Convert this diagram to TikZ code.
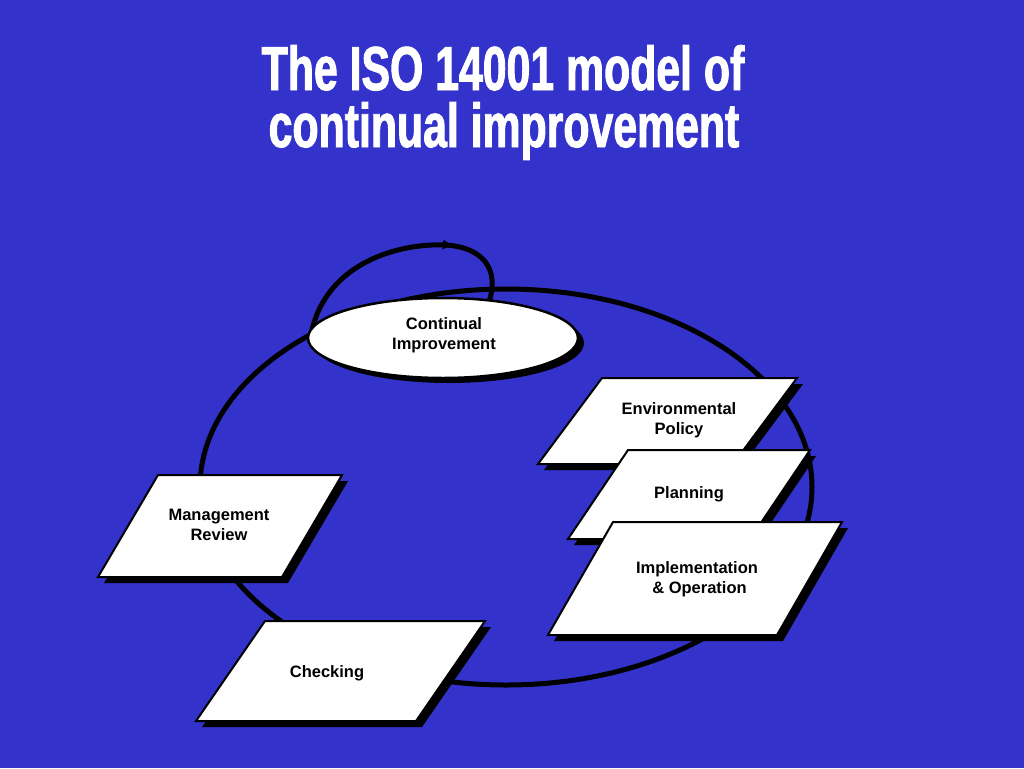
\documentclass[tikz,border=0pt]{standalone}
\usepackage{fontspec}
\setmainfont{Liberation Sans}
\newfontfamily\titlefont[FakeStretch=0.69,FakeBold=1.5]{Liberation Sans}
\usetikzlibrary{decorations.markings,arrows.meta}
\definecolor{bgblue}{RGB}{51,51,204}
\tikzset{
  ring/.style={line width=5pt,draw=black},
  pbox/.style={fill=white,draw=black,line width=2pt,line join=miter},
  pshadow/.style={fill=black},
  lbl/.style={font=\bfseries\fontsize{16.5}{20}\selectfont,align=center,text=black,inner sep=0pt},
  ttl/.style={font=\titlefont\bfseries\fontsize{62}{52}\selectfont,text=white,inner sep=0pt,anchor=base}
}
\newcommand\pgram[6]{% TLx TLy topwidth height dx name
  \fill[pshadow] (#1+6,#2+6) -- (#1+#3+6,#2+6) -- (#1+#3-#5+6,#2+#4+6) -- (#1-#5+6,#2+#4+6) -- cycle;
  \filldraw[pbox] (#1,#2) -- (#1+#3,#2) -- (#1+#3-#5,#2+#4) -- (#1-#5,#2+#4) -- cycle;
  \coordinate (#6) at (#1+#3/2-#5/2,#2+#4/2);
}
\begin{document}
\begin{tikzpicture}[x=1pt,y=-1pt]
\fill[bgblue] (0,0) rectangle (1024,768);
\useasboundingbox (0,0) rectangle (1024,768);
\node[ttl] (t1) at (503,90) {The ISO 14001 model of};
\node[ttl] (t2) at (504,147) {continual improvement};
% big cycle
\draw[ring] (506,487) ellipse [x radius=306, y radius=198];
% loop arrow
\draw[ring, postaction={decorate}, decoration={markings, mark=at position 0.69 with {\arrow{Triangle[length=9pt,width=9pt]}}}]
  (312,330) .. controls (328,262) and (400,243) .. (445,245) .. controls (482,247) and (500,268) .. (489,302);
% continual improvement ellipse
\fill[black] (449,343) ellipse [x radius=135, y radius=40];
\filldraw[fill=white,draw=black,line width=2.5pt] (443,338) ellipse [x radius=135, y radius=40];
\node[lbl] (ci) at (444,335) {Continual\\Improvement};
% parallelograms
\pgram{602}{378}{195}{86}{64}{envc}
\node[lbl] (env) at (679,420) {Environmental\\Policy};
\pgram{628}{450}{182}{89}{60}{planc}
\node[lbl] (plan) at (689,494) {Planning};
\pgram{613}{522}{229}{113}{65}{implc}
\node[lbl] (impl) at (697,579) {Implementation\\\hspace*{5pt}\& Operation};
\pgram{158}{475}{184}{102}{60}{mgmtc}
\node[lbl] (mgmt) at (219,525) {Management\\Review};
\pgram{265}{621}{220}{100}{69}{checkc}
\node[lbl] (check) at (327,673) {Checking};
\end{tikzpicture}
\end{document}
